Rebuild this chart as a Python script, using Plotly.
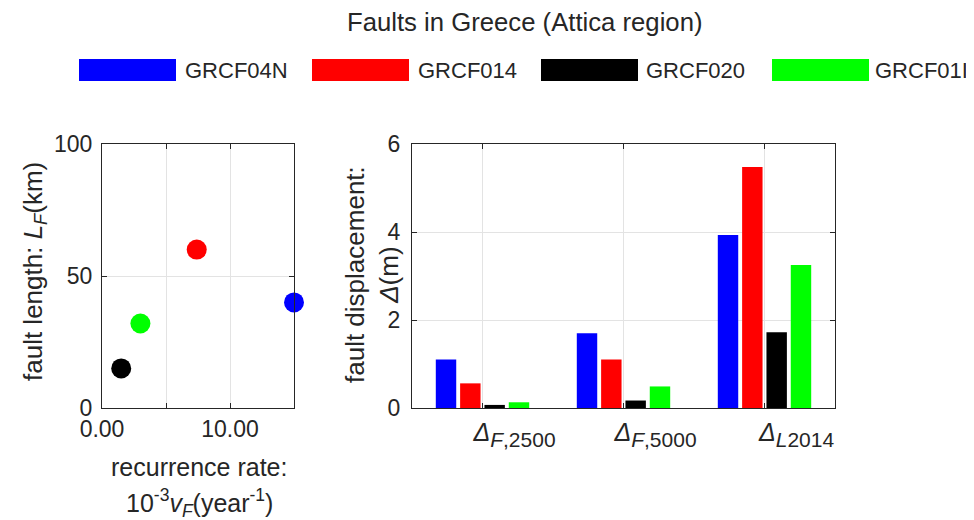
import plotly.graph_objects as go

# ---- data ----
faults = ["GRCF04N", "GRCF014", "GRCF020", "GRCF01I"]
colors = ["#0000ff", "#ff0000", "#000000", "#00ff00"]
recurrence_rate = [15.0, 7.4, 1.5, 3.0]      # 10^-3 v_F (year^-1)
fault_length = [40, 60, 15, 32]              # L_F (km)
LAB = '<span style="font-size:25px"><i>Δ</i></span><sub>{}</sub>'
categories = [LAB.format("<i>F</i>,2500"),
              LAB.format("<i>F</i>,5000"),
              LAB.format("<i>L</i>2014")]
displacement = {
    "GRCF04N": [1.10, 1.70, 3.93],
    "GRCF014": [0.56, 1.10, 5.48],
    "GRCF020": [0.07, 0.17, 1.72],
    "GRCF01I": [0.13, 0.49, 3.25],
}
x_ticks = [0, 5, 10, 15]
x_ticklabels = ["0.00", "", "10.00", ""]
y1_ticks = [0, 50, 100]
y2_ticks = [0, 2, 4, 6]

OFF = 8                      # page body margin
W, H = 974 - OFF, 520 - OFF
FONT = "Liberation Sans, Arial, sans-serif"
TXT = "#262626"
AX = "#262626"
GRID = "#e3e3e3"

fig = go.Figure()

for name, col, xr, yl in zip(faults, colors, recurrence_rate, fault_length):
    fig.add_trace(go.Scatter(x=[xr], y=[yl], mode="markers", name=name,
                             marker=dict(color=col, size=20),
                             cliponaxis=False, showlegend=False,
                             xaxis="x", yaxis="y"))

for name, col in zip(faults, colors):
    fig.add_trace(go.Bar(x=categories, y=displacement[name], name=name,
                         marker=dict(color=col, line=dict(width=0)),
                         showlegend=False, xaxis="x2", yaxis="y2"))

def px_x(p):
    return (p - OFF) / W

def px_y(p):
    return 1 - (p - OFF) / H

axis_common = dict(showline=True, linecolor=AX, linewidth=1, mirror="allticks",
                   ticks="inside", ticklen=5, tickcolor=AX, automargin=False,
                   showgrid=True, gridcolor=GRID, gridwidth=1, zeroline=False,
                   tickfont=dict(family=FONT, size=23, color=TXT))

fig.update_layout(
    width=W, height=H,
    margin=dict(l=0, r=0, t=0, b=0),
    paper_bgcolor="white", plot_bgcolor="white",
    barmode="group", bargap=0.31, bargroupgap=0.16,
    xaxis=dict(domain=[px_x(102), px_x(294)], range=[0, 15],
               tickvals=x_ticks, ticktext=x_ticklabels,
               anchor="y", **axis_common),
    yaxis=dict(domain=[px_y(408), px_y(144)], range=[0, 100],
               tickvals=y1_ticks, anchor="x", ticklabelstandoff=4, **axis_common),
    xaxis2=dict(domain=[px_x(412), px_x(835)], range=[-0.5, 2.5],
                anchor="y2", ticklabelshift=32, ticklabelstandoff=-4, **axis_common),
    yaxis2=dict(domain=[px_y(408), px_y(144)], range=[0, 6],
                tickvals=y2_ticks, anchor="x2", ticklabelstandoff=6, **axis_common),
    showlegend=False,
)
fig.update_layout(xaxis2_tickfont_size=30)

TF = 26
annotations = [
    dict(text="Faults in Greece (Attica region)", x=px_x(525), y=px_y(22),
         xref="paper", yref="paper", showarrow=False, xanchor="center",
         yanchor="middle", font=dict(family=FONT, size=25.7, color=TXT)),
    dict(text="fault length: <i>L</i><sub><i>F</i></sub>(km)", x=px_x(34), y=px_y(272),
         xref="paper", yref="paper", showarrow=False, textangle=-90,
         xanchor="center", yanchor="middle", font=dict(family=FONT, size=TF, color=TXT)),
    dict(text="recurrence rate:", x=px_x(199), y=px_y(467),
         xref="paper", yref="paper", showarrow=False, xanchor="center",
         yanchor="middle", font=dict(family=FONT, size=25, color=TXT)),
    dict(text="10<sup>-3</sup><i>v</i><sub><i>F</i></sub>(year<sup>-1</sup>)",
         x=px_x(199), y=px_y(503), xref="paper", yref="paper", showarrow=False,
         xanchor="center", yanchor="middle", font=dict(family=FONT, size=25, color=TXT)),
    dict(text="fault displacement:<br><i>Δ</i>(m)", x=px_x(372), y=px_y(275),
         xref="paper", yref="paper", showarrow=False, textangle=-90,
         xanchor="center", yanchor="middle", font=dict(family=FONT, size=TF, color=TXT)),
]

shapes = []
legend_rect_x = [79, 312, 541, 772]
legend_text_x = [184, 417, 645, 874]
for name, col, x0, xt in zip(faults, colors, legend_rect_x, legend_text_x):
    shapes.append(dict(type="rect", xref="paper", yref="paper",
                       x0=px_x(x0), x1=px_x(x0 + 97), y0=px_y(81), y1=px_y(59),
                       fillcolor=col, line=dict(width=0)))
    annotations.append(dict(text=name, x=px_x(xt - 1), y=px_y(70),
                            xref="paper", yref="paper", showarrow=False,
                            xanchor="left", yanchor="middle",
                            font=dict(family=FONT, size=22, color=TXT)))

fig.update_layout(annotations=annotations, shapes=shapes)

fig.write_html("out.html")
